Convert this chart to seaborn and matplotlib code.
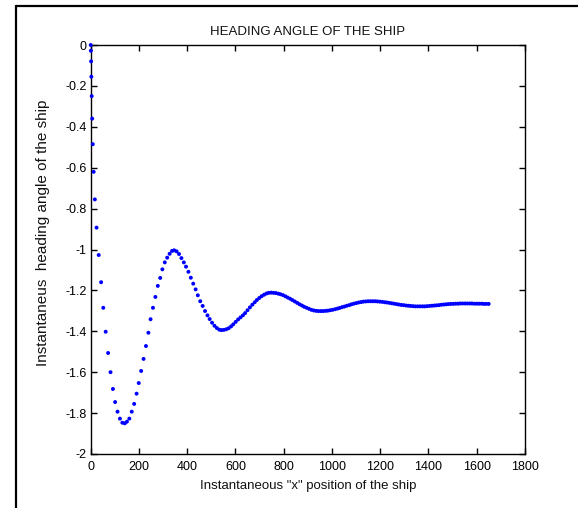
import matplotlib
matplotlib.use("Agg")
import matplotlib.pyplot as plt
import seaborn as sns
import pandas as pd
from matplotlib.lines import Line2D

# ---- data ----
x_pos = [0, 0.5, 1.5, 2.5, 4, 6, 8.5, 12, 17, 24,
         33, 43, 52, 62, 72, 82, 92, 101, 111, 121, 131, 141, 150, 160, 170, 180, 190, 199, 209, 219,
         229, 239, 248, 258, 268, 278, 288, 297, 307, 317, 327, 337, 346, 356, 366, 376, 386, 395, 405, 415,
         425, 435, 444, 454, 464, 474, 484, 493, 503, 513, 523, 533, 542, 552, 562, 572, 582, 591, 601, 611,
         621, 631, 640, 650, 660, 670, 680, 689, 699, 709, 719, 729, 738, 748,
         758, 768, 778, 787, 797, 807, 817, 827, 836, 846, 856, 866, 876, 885, 895, 905, 915, 925, 934, 944, 954,
         964, 974, 983, 993, 1003, 1013, 1023, 1032, 1042, 1052, 1062, 1072, 1081, 1091, 1101, 1111, 1121, 1130, 1140, 1150, 1160,
         1170, 1180, 1189, 1199, 1209, 1219, 1228, 1238, 1248, 1258, 1268, 1277, 1287, 1297, 1307, 1317, 1326, 1336, 1346, 1356, 1366,
         1376, 1385, 1395, 1405, 1415, 1425, 1434, 1444, 1454, 1464, 1474, 1483, 1493, 1503, 1513, 1523, 1532, 1542, 1552, 1562,
         1572, 1581, 1591, 1601, 1611, 1621, 1630, 1640, 1650]

heading = [0.000, -0.028, -0.080, -0.155, -0.250, -0.360, -0.485, -0.620, -0.755, -0.893,
           -1.027, -1.160, -1.285, -1.402, -1.506, -1.600, -1.682, -1.746, -1.793, -1.827, -1.847, -1.850, -1.842, -1.827, -1.793, -1.755, -1.705, -1.653, -1.594, -1.535,
           -1.472, -1.407, -1.341, -1.285, -1.232, -1.178, -1.139, -1.097, -1.063, -1.040, -1.021, -1.007, -1.004, -1.009, -1.022, -1.042, -1.063, -1.084, -1.109, -1.138,
           -1.167, -1.195, -1.224, -1.253, -1.276, -1.301, -1.322, -1.340, -1.358, -1.373, -1.384, -1.392, -1.394, -1.393, -1.390, -1.385, -1.376, -1.366, -1.354, -1.342,
           -1.332, -1.322, -1.311, -1.297, -1.283, -1.270, -1.258, -1.247, -1.237, -1.228, -1.221, -1.215, -1.212, -1.211,
           -1.212, -1.213, -1.216, -1.219, -1.223, -1.229, -1.235, -1.241, -1.247, -1.254, -1.261, -1.268, -1.274, -1.280, -1.285, -1.290, -1.295, -1.298, -1.300, -1.301, -1.301,
           -1.301, -1.300, -1.299, -1.297, -1.295, -1.292, -1.289, -1.286, -1.282, -1.279, -1.275, -1.272, -1.268, -1.265, -1.262, -1.259, -1.257, -1.255, -1.254, -1.253, -1.253,
           -1.253, -1.253, -1.254, -1.255, -1.256, -1.258, -1.259, -1.261, -1.263, -1.265, -1.267, -1.269, -1.271, -1.272, -1.274, -1.275, -1.276, -1.277, -1.278, -1.278, -1.278,
           -1.278, -1.278, -1.277, -1.276, -1.275, -1.274, -1.273, -1.272, -1.270, -1.269, -1.268, -1.267, -1.266, -1.266, -1.265, -1.265, -1.264, -1.264, -1.264, -1.264,
           -1.264, -1.264, -1.265, -1.265, -1.265, -1.265, -1.266, -1.266, -1.266]

x_ticks = [0, 200, 400, 600, 800, 1000, 1200, 1400, 1600, 1800]
y_ticks = [0, -0.2, -0.4, -0.6, -0.8, -1, -1.2, -1.4, -1.6, -1.8, -2]
y_tick_labels = ["0", "-0.2", "-0.4", "-0.6", "-0.8", "-1", "-1.2", "-1.4", "-1.6", "-1.8", "-2"]

title_text = "HEADING ANGLE OF THE SHIP"
x_label = 'Instantaneous "x" position of the ship'
y_label = "Instantaneus  heading angle of the ship"

df = pd.DataFrame({"x": x_pos, "y": heading})

sns.set_theme(style="ticks")
plt.rcParams["font.family"] = ["Liberation Sans", "DejaVu Sans"]
plt.rcParams["axes.unicode_minus"] = False

fig = plt.figure(figsize=(5.78, 5.08), dpi=100)
ax = fig.add_axes([0.157, 0.1063, 0.751, 0.8051])

sns.scatterplot(data=df, x="x", y="y", ax=ax, color="#0000ff", s=8,
                linewidth=0, edgecolor="none", clip_on=False, zorder=3)

ax.set_xlim(0, 1800)
ax.set_ylim(-2, 0)
ax.set_xticks(x_ticks)
ax.set_xticklabels([str(t) for t in x_ticks])
ax.set_yticks(y_ticks)
ax.set_yticklabels(y_tick_labels)
ax.tick_params(direction="in", length=4, width=1, top=True, right=True,
               labelsize=9, colors="black")
ax.tick_params(axis="x", pad=5)
ax.tick_params(axis="y", pad=3)
for sp in ax.spines.values():
    sp.set_visible(True)
    sp.set_linewidth(1.0)
    sp.set_color("black")

ax.set_title(title_text, fontsize=9.5, color="#111111", pad=7)
ax.set_xlabel(x_label, fontsize=9.5, color="#111111", labelpad=5)
ax.set_ylabel(y_label, fontsize=11, color="#111111")
ax.yaxis.set_label_coords(-0.094, 0.54)

# outer frame (left and top edges)
fig.add_artist(Line2D([16/578, 16/578], [0, 1 - 6/508], transform=fig.transFigure,
                      color="black", linewidth=1.6))
fig.add_artist(Line2D([16/578, 1], [1 - 6/508, 1 - 6/508], transform=fig.transFigure,
                      color="black", linewidth=1.6))

fig.savefig("out.png", dpi=100, facecolor="white")
